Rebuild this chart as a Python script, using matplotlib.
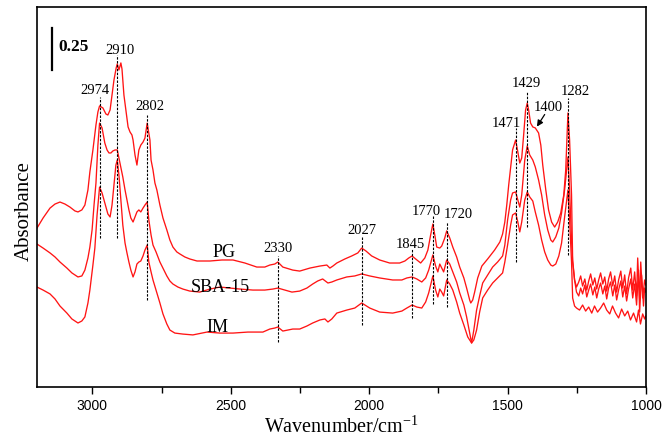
import matplotlib
matplotlib.use("Agg")
import matplotlib.pyplot as plt
from matplotlib.ticker import FixedLocator

plt.rcParams["mathtext.fontset"] = "custom"
plt.rcParams["mathtext.rm"] = "Liberation Serif"
plt.rcParams["mathtext.it"] = "Liberation Serif:italic"
plt.rcParams["mathtext.bf"] = "Liberation Serif:bold"

# ---------------- data (wavenumber / cm-1, absorbance) ----------------
pg_wn = [3200, 3178, 3153, 3135, 3117, 3099, 3081, 3063, 3052, 3038, 3027, 3016, 3009, 2998, 2987, 2980,
         2974, 2962, 2951, 2944, 2936, 2929, 2922, 2914, 2910, 2907, 2904, 2901, 2897, 2893, 2886, 2879,
         2871, 2864, 2857, 2853, 2846, 2839, 2832, 2825, 2817, 2810, 2802, 2792, 2788, 2781, 2774, 2767,
         2756, 2745, 2731, 2720, 2709, 2695, 2684, 2666, 2648, 2622, 2575, 2532, 2492, 2449, 2406, 2377,
         2359, 2341, 2330, 2312, 2276, 2251, 2214, 2178, 2153, 2142, 2131, 2117, 2088, 2063, 2041, 2027,
         2012, 1991, 1962, 1926, 1890, 1871, 1857, 1845, 1832, 1814, 1799, 1788, 1778, 1770, 1763, 1756,
         1745, 1738, 1727, 1720, 1709, 1698, 1684, 1673, 1658, 1648, 1637, 1633, 1626, 1619, 1608, 1593,
         1572, 1547, 1528, 1518, 1510, 1503, 1496, 1489, 1482, 1471, 1463, 1456, 1449, 1442, 1435, 1429,
         1424, 1417, 1409, 1400, 1388, 1380, 1373, 1362, 1352, 1341, 1330, 1319, 1308, 1297, 1290, 1282,
         1276, 1269, 1265, 1258, 1251,
         1243, 1236, 1229, 1221, 1214, 1207, 1200, 1192, 1185, 1178, 1171, 1164, 1156, 1149, 1142, 1135,
         1128, 1120, 1113, 1106, 1099, 1091, 1084, 1077, 1070, 1063, 1055, 1048, 1041, 1034, 1030, 1023,
         1019, 1012, 1005, 1001]
pg_abs = [0.946, 1.006, 1.065, 1.089, 1.101, 1.089, 1.071, 1.048, 1.042, 1.054, 1.083, 1.173, 1.280, 1.411, 1.560, 1.637,
          1.673, 1.661, 1.625, 1.619, 1.649, 1.738, 1.827, 1.899, 1.923, 1.905, 1.887, 1.905, 1.929, 1.893, 1.738, 1.649,
          1.548, 1.518, 1.500, 1.470, 1.381, 1.321, 1.411, 1.440, 1.458, 1.482, 1.571, 1.470, 1.351, 1.292, 1.214, 1.173,
          1.083, 1.006, 0.935, 0.875, 0.833, 0.804, 0.792, 0.774, 0.762, 0.750, 0.750, 0.756, 0.756, 0.738, 0.714, 0.714,
          0.726, 0.732, 0.744, 0.714, 0.696, 0.690, 0.708, 0.720, 0.726, 0.708, 0.720, 0.738, 0.762, 0.780, 0.798, 0.827,
          0.810, 0.780, 0.756, 0.738, 0.738, 0.750, 0.768, 0.780, 0.762, 0.738, 0.768, 0.815, 0.905, 0.970, 0.905, 0.833,
          0.827, 0.839, 0.887, 0.929, 0.887, 0.833, 0.774, 0.714, 0.649, 0.589, 0.518, 0.500, 0.518, 0.565, 0.649, 0.720,
          0.762, 0.815, 0.863, 0.911, 0.982, 1.083, 1.202, 1.304, 1.411, 1.470, 1.399, 1.333, 1.363, 1.500, 1.649, 1.690,
          1.649, 1.571, 1.548, 1.542, 1.512, 1.440, 1.321, 1.173, 1.054, 0.982, 0.952, 0.982, 1.036, 1.143, 1.292, 1.631,
          1.470, 1.143, 0.756, 0.637, 0.595,
          0.625, 0.661, 0.601, 0.643, 0.577, 0.631, 0.673, 0.607, 0.649, 0.583, 0.637, 0.679, 0.613, 0.655, 0.571, 0.643,
          0.685, 0.601, 0.661, 0.565, 0.637, 0.690, 0.589, 0.667, 0.554, 0.649, 0.708, 0.577, 0.685, 0.542, 0.768, 0.518,
          0.744, 0.530, 0.637, 0.607]

sba_wn = [3200, 3178, 3153, 3135, 3117, 3092, 3074, 3052, 3038, 3027, 3016, 3009, 3001, 2994, 2987, 2980,
          2974, 2965, 2955, 2947, 2940, 2933, 2926, 2918, 2910, 2904, 2897, 2890, 2882, 2875, 2868, 2861,
          2853, 2846, 2839, 2832, 2825, 2817, 2810, 2802, 2796, 2788, 2781, 2770, 2756, 2745, 2731, 2720,
          2709, 2691, 2673, 2648, 2612, 2575, 2539, 2503, 2467, 2420, 2377, 2348, 2330, 2305, 2279, 2251,
          2225, 2204, 2186, 2168, 2149, 2135, 2117, 2081, 2052, 2027, 1998, 1962, 1915, 1882, 1864, 1845,
          1828, 1810, 1796, 1785, 1770, 1760, 1752, 1745, 1738, 1731, 1720, 1709, 1698, 1684, 1673, 1658,
          1648, 1637, 1630, 1622, 1612, 1601, 1590, 1572, 1554, 1536, 1518, 1510, 1500, 1489, 1482, 1471,
          1463, 1456, 1449, 1438, 1429, 1420, 1409, 1400, 1388, 1377, 1366, 1355, 1344, 1337, 1326, 1315,
          1305, 1294, 1282, 1276, 1269, 1265, 1258, 1251,
          1243, 1236, 1229, 1221, 1214, 1207, 1200, 1192, 1185, 1178, 1171, 1164, 1156, 1149, 1142, 1135,
          1128, 1120, 1113, 1106, 1099, 1091, 1084, 1077, 1070, 1063, 1055, 1048, 1041, 1034, 1027, 1023,
          1016, 1009, 1005, 1001]
sba_abs = [0.851, 0.827, 0.798, 0.774, 0.744, 0.708, 0.679, 0.655, 0.661, 0.696, 0.768, 0.833, 0.935, 1.083, 1.214, 1.440,
           1.571, 1.542, 1.452, 1.411, 1.393, 1.393, 1.405, 1.411, 1.411, 1.363, 1.304, 1.250, 1.173, 1.113, 1.054, 1.006,
           0.982, 1.012, 1.042, 1.054, 1.042, 1.065, 1.083, 1.101, 0.994, 0.905, 0.845, 0.804, 0.744, 0.708, 0.661, 0.631,
           0.613, 0.595, 0.583, 0.571, 0.565, 0.583, 0.595, 0.589, 0.583, 0.577, 0.577, 0.583, 0.589, 0.577, 0.565, 0.571,
           0.589, 0.613, 0.631, 0.643, 0.619, 0.625, 0.637, 0.655, 0.661, 0.673, 0.661, 0.649, 0.637, 0.637, 0.649, 0.655,
           0.643, 0.625, 0.649, 0.696, 0.786, 0.720, 0.685, 0.732, 0.708, 0.685, 0.756, 0.732, 0.685, 0.625, 0.560, 0.488,
           0.417, 0.321, 0.262, 0.339, 0.458, 0.542, 0.619, 0.667, 0.714, 0.744, 0.780, 0.845, 0.994, 1.113, 1.155, 1.161,
           1.113, 1.071, 1.143, 1.351, 1.435, 1.381, 1.351, 1.310, 1.232, 1.143, 1.024, 0.935, 0.875, 0.863, 0.893, 0.946,
           1.036, 1.173, 1.369, 1.173, 0.875, 0.744, 0.637, 0.565,
           0.542, 0.589, 0.554, 0.607, 0.536, 0.577, 0.613, 0.548, 0.595, 0.530, 0.583, 0.619, 0.554, 0.601, 0.524, 0.589,
           0.625, 0.542, 0.607, 0.518, 0.577, 0.631, 0.536, 0.601, 0.512, 0.583, 0.643, 0.530, 0.613, 0.488, 0.696, 0.446,
           0.667, 0.482, 0.589, 0.565]

im_wn = [3200, 3178, 3153, 3135, 3117, 3092, 3074, 3052, 3038, 3027, 3016, 3009, 2998, 2991, 2983,
         2974, 2965, 2955, 2944, 2936, 2929, 2922, 2915, 2910, 2904, 2897, 2890, 2882, 2875, 2868, 2861,
         2853, 2846, 2839, 2832, 2825, 2817, 2810, 2802, 2796, 2788, 2781, 2770, 2756, 2745, 2731, 2720,
         2702, 2673, 2637, 2586, 2539, 2492, 2438, 2384, 2359, 2341, 2330, 2312, 2276, 2251, 2225, 2204,
         2178, 2160, 2149, 2135, 2117, 2081, 2052, 2027, 1998, 1962, 1915, 1882, 1864, 1845, 1828, 1810,
         1796, 1785, 1770, 1760, 1752, 1745, 1738, 1731, 1720, 1709, 1698, 1684, 1673, 1658, 1644, 1630,
         1622, 1612, 1601, 1590, 1572, 1554, 1536, 1518, 1510, 1500, 1489, 1482, 1471, 1463, 1456, 1449,
         1438, 1429, 1420, 1409, 1400, 1388, 1377, 1366, 1355, 1344, 1337, 1326, 1315, 1305, 1294, 1282,
         1276, 1269, 1265, 1258, 1251,
         1240, 1229, 1218, 1207, 1196, 1186, 1175, 1164, 1153, 1142, 1131, 1121, 1110, 1099, 1088, 1077,
         1066, 1056, 1045, 1034, 1027, 1020, 1012, 1005, 1001]
im_abs = [0.595, 0.577, 0.554, 0.524, 0.482, 0.440, 0.405, 0.381, 0.393, 0.417, 0.500, 0.577, 0.726, 0.827, 1.024,
          1.190, 1.155, 1.095, 1.030, 1.012, 1.083, 1.202, 1.321, 1.351, 1.262, 1.113, 0.964, 0.857, 0.798, 0.744, 0.696,
          0.655, 0.685, 0.732, 0.744, 0.750, 0.780, 0.815, 0.845, 0.744, 0.685, 0.637, 0.577, 0.500, 0.435, 0.375, 0.339,
          0.321, 0.315, 0.310, 0.327, 0.321, 0.321, 0.327, 0.327, 0.345, 0.351, 0.357, 0.333, 0.345, 0.345, 0.363, 0.381,
          0.399, 0.405, 0.387, 0.405, 0.440, 0.458, 0.470, 0.500, 0.470, 0.446, 0.440, 0.452, 0.470, 0.488, 0.476, 0.470,
          0.506, 0.560, 0.661, 0.577, 0.536, 0.583, 0.565, 0.542, 0.637, 0.613, 0.577, 0.506, 0.440, 0.369, 0.298, 0.262,
          0.280, 0.339, 0.446, 0.530, 0.577, 0.619, 0.649, 0.679, 0.744, 0.845, 0.964, 1.024, 1.036, 0.982, 0.923, 0.982,
          1.113, 1.161, 1.131, 1.107, 1.042, 0.964, 0.875, 0.804, 0.756, 0.726, 0.720, 0.732, 0.780, 0.857, 1.012, 1.173,
          0.994, 0.744, 0.530, 0.482, 0.470,
          0.458, 0.488, 0.452, 0.476, 0.440, 0.482, 0.446, 0.470, 0.500, 0.458, 0.435, 0.482, 0.440, 0.411, 0.464, 0.423,
          0.452, 0.399, 0.440, 0.387, 0.458, 0.375, 0.435, 0.405, 0.423]

series_names = ["PG", "SBA-15", "IM"]

# peak annotations
peak_wn = [2974, 2910, 2802, 2330, 2027, 1845, 1770, 1720, 1471, 1429, 1282]
peak_line_top = [1.726, 1.976, 1.619, 0.780, 0.893, 0.827, 1.018, 0.982, 1.542, 1.756, 1.720]
peak_line_bottom = [0.887, 0.887, 0.518, 0.268, 0.369, 0.411, 0.494, 0.476, 0.744, 0.952, 0.786]
peak_text = ["2974", "2910", "2802", "2330", "2027", "1845", "1770", "1720", "1471", "1429", "1282"]
peak_text_wn = [2991, 2900, 2792, 2330, 2027, 1853, 1792, 1677, 1503, 1431, 1254]
peak_text_abs = [1.762, 2.000, 1.667, 0.827, 0.929, 0.851, 1.042, 1.024, 1.571, 1.804, 1.756]

xticks_major = [3000, 2500, 2000, 1500, 1000]
xticks_minor = [2750, 2250, 1750, 1250]

# ---------------- figure ----------------
W, H = 664, 441
fig = plt.figure(figsize=(W / 100, H / 100), dpi=100)
ax = fig.add_axes([37 / W, 1 - 387 / H, (646 - 37) / W, (387 - 7) / H])

serif = ["Liberation Serif", "DejaVu Serif"]
red = "#ff1414"
for wn, ab in [(pg_wn, pg_abs), (sba_wn, sba_abs), (im_wn, im_abs)]:
    ax.plot(wn, ab, color=red, lw=0.95)

for w, t, b in zip(peak_wn, peak_line_top, peak_line_bottom):
    ax.plot([w, w], [b, t], color="black", lw=0.8, ls=(0, (2.2, 1.3)))

for s, w, a in zip(peak_text, peak_text_wn, peak_text_abs):
    ax.text(w, a, s, ha="center", va="center", fontsize=10.5, family=serif)

# 1400 shoulder: label plus arrow pointing down-left to the shoulder
ax.text(1352, 1.661, "1400", ha="center", va="center", fontsize=10.5, family=serif)
ax.annotate("", xy=(1394, 1.550), xytext=(1366, 1.622),
            arrowprops=dict(arrowstyle="-|>", color="black", lw=0.9, mutation_scale=9,
                            shrinkA=0, shrinkB=0))

# curve labels
label_wn = [2525, 2539, 2547]
label_abs = [0.798, 0.595, 0.357]
for n, w, a in zip(series_names, label_wn, label_abs):
    ax.text(w, a, n, ha="center", va="center", fontsize=13, family=serif)

# scale bar
ax.plot([3146, 3146], [1.887, 2.137], color="black", lw=1.6)
ax.text(3122, 2.024, "0.25", ha="left", va="center", fontsize=12.5, fontweight="bold", family=serif)

ax.set_xlim(3200, 1000)
ax.set_ylim(0, (387 - 7) / 168)
ax.xaxis.set_major_locator(FixedLocator(xticks_major))
ax.xaxis.set_minor_locator(FixedLocator(xticks_minor))
ax.tick_params(axis="x", which="major", direction="out", length=5, width=1.0, labelsize=10, pad=4)
ax.tick_params(axis="x", which="minor", direction="out", length=4, width=1.0)
for lab in ax.get_xticklabels():
    lab.set_family(["Liberation Sans", "DejaVu Sans"])
ax.set_yticks([])
for sp in ax.spines.values():
    sp.set_linewidth(1.2)

ax.set_xlabel(r"Wavenumber/cm$^{\mathregular{-1}}$", fontsize=14.5, family=serif, labelpad=2)
ax.set_ylabel("Absorbance", fontsize=15, family=serif)
ax.yaxis.set_label_coords(-0.006, 0.463)

fig.savefig("out.png", dpi=100)
